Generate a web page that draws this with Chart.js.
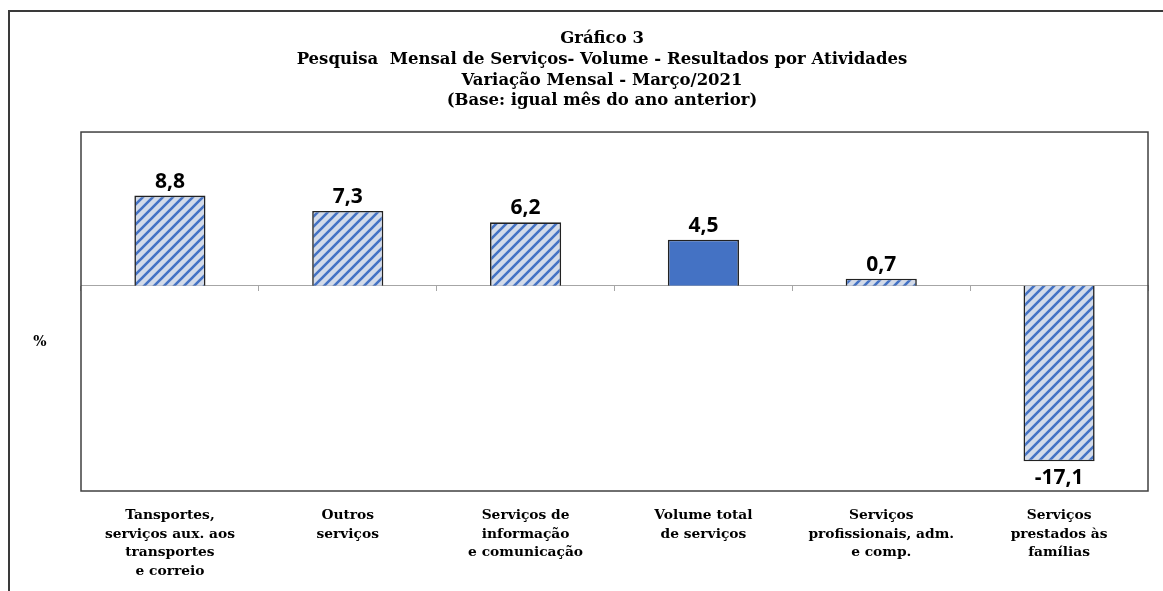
<!DOCTYPE html>
<html lang="pt-BR">
<head>
<meta charset="utf-8">
<title>Gráfico 3 — PMS volume por atividades</title>
<style>
  html, body { margin: 0; padding: 0; background: #fff; overflow: hidden; }
  /* outer chart frame: Excel's border runs off the right and bottom of the crop */
  .frame {
    position: absolute; left: 8px; top: 10px; width: 1400px; height: 800px;
    border-left: 2px solid #3a3a3a; border-top: 2px solid #3a3a3a;
  }
  #chart { position: absolute; left: 0; top: 0; }
</style>
</head>
<body>
<div class="frame"></div>
<canvas id="chart" width="1163" height="591"></canvas>
<script src="https://cdn.jsdelivr.net/npm/chart.js@4/dist/chart.umd.min.js"></script>
<script>
(function () {
  'use strict';

  /* ---------- data (IBGE PMS, março/2021, % vs igual mês do ano anterior) ---------- */
  var categories = [
    ['Tansportes,', 'serviços aux. aos', 'transportes', 'e correio'],
    ['Outros', 'serviços'],
    ['Serviços de', 'informação', 'e comunicação'],
    ['Volume total', 'de serviços'],
    ['Serviços', 'profissionais, adm.', 'e comp.'],
    ['Serviços', 'prestados às', 'famílias']
  ];
  var values = [8.8, 7.3, 6.2, 4.5, 0.7, -17.1];
  var titleLines = [
    'Gráfico 3',
    'Pesquisa  Mensal de Serviços- Volume - Resultados por Atividades',
    'Variação Mensal - Março/2021',
    '(Base: igual mês do ano anterior)'
  ];
  var unitLabel = '%';
  var yMin = -20, yMax = 15;

  /* the aggregate is the solid bar, the activities are hatched */
  var totalIndex = categories.findIndex(function (c) { return c[0] === 'Volume total'; });

  var BLUE = '#4472c4';
  var SERIF = '"DejaVu Serif", serif';

  function fmt(v) { return v.toFixed(1).replace('.', ','); }

  /* ---------- "///" hatch fill like Excel's wide upward diagonal ---------- */
  function hatch() {
    var c = document.createElement('canvas');
    c.width = c.height = 10;
    var g = c.getContext('2d');
    g.fillStyle = '#d3dbea';
    g.fillRect(0, 0, 10, 10);
    g.strokeStyle = BLUE;
    g.lineWidth = 2.6;
    g.beginPath();
    g.moveTo(-5, 5); g.lineTo(5, -5);
    g.moveTo(0, 10); g.lineTo(10, 0);
    g.moveTo(5, 15); g.lineTo(15, 5);
    g.stroke();
    return g.createPattern(c, 'repeat');
  }

  /* ---------- plot box + unrotated unit label ---------- */
  var plotFrame = {
    id: 'plotFrame',
    afterDraw: function (chart) {
      var a = chart.chartArea, ctx = chart.ctx;
      ctx.save();
      ctx.strokeStyle = '#404040';
      ctx.lineWidth = 1.5;
      ctx.strokeRect(a.left, a.top, a.right - a.left, a.bottom - a.top);
      ctx.fillStyle = '#000';
      ctx.font = 'bold 14px ' + SERIF;
      ctx.textAlign = 'center';
      ctx.textBaseline = 'middle';
      ctx.fillText(unitLabel, a.left - 41, a.top + 210);
      ctx.restore();
    }
  };

  /* ---------- value labels, above positive bars / below negative ---------- */
  var valueLabels = {
    id: 'valueLabels',
    afterDatasetsDraw: function (chart) {
      var ctx = chart.ctx;
      ctx.save();
      ctx.font = 'bold 21px "Open Sans", sans-serif';
      ctx.fillStyle = '#000';
      ctx.textAlign = 'center';
      ctx.textBaseline = 'alphabetic';
      chart.getDatasetMeta(0).data.forEach(function (bar, i) {
        var v = values[i];
        ctx.fillText(fmt(v), bar.x, v >= 0 ? bar.y - 8 : bar.y + 23);
      });
      ctx.restore();
    }
  };

  var fill = hatch();

  new Chart(document.getElementById('chart'), {
    type: 'bar',
    data: {
      labels: categories,
      datasets: [{
        data: values,
        backgroundColor: values.map(function (v, i) { return i === totalIndex ? BLUE : fill; }),
        borderColor: '#222',
        borderWidth: 1.6,
        barPercentage: 0.4,
        categoryPercentage: 1
      }]
    },
    options: {
      responsive: false,
      animation: false,
      layout: { padding: { left: 56, right: 15, top: 0, bottom: 0 } },
      plugins: {
        legend: { display: false },
        tooltip: { enabled: false },
        title: {
          display: true,
          text: titleLines,
          color: '#000',
          font: { family: SERIF, weight: 'bold', size: 16.5, lineHeight: 1.255 },
          padding: { top: 28.5, bottom: 20.7 }
        }
      },
      scales: {
        x: {
          position: 'bottom',
          offset: true,
          grid: { display: false },
          border: { display: false },
          ticks: {
            color: '#000',
            autoSkip: false,
            maxRotation: 0,
            padding: 7,
            font: { family: SERIF, weight: 'bold', size: 13.8, lineHeight: 1.355 }
          },
          afterFit: function (s) { s.height = 100; }
        },
        /* zero line with the little category-boundary ticks hanging under it */
        zero: {
          type: 'category',
          axis: 'x',
          position: { y: 0 },
          offset: true,
          grid: { offset: true, drawOnChartArea: false, drawTicks: true, tickLength: 5, color: '#a6a6a6' },
          border: { color: '#a6a6a6', width: 1 },
          ticks: { display: false }
        },
        y: {
          min: yMin,
          max: yMax,
          grid: { display: false },
          border: { display: false },
          ticks: { display: false },
          afterFit: function (s) { s.width = 25; }
        }
      }
    },
    plugins: [valueLabels, plotFrame]
  });
})();
</script>
</body>
</html>
